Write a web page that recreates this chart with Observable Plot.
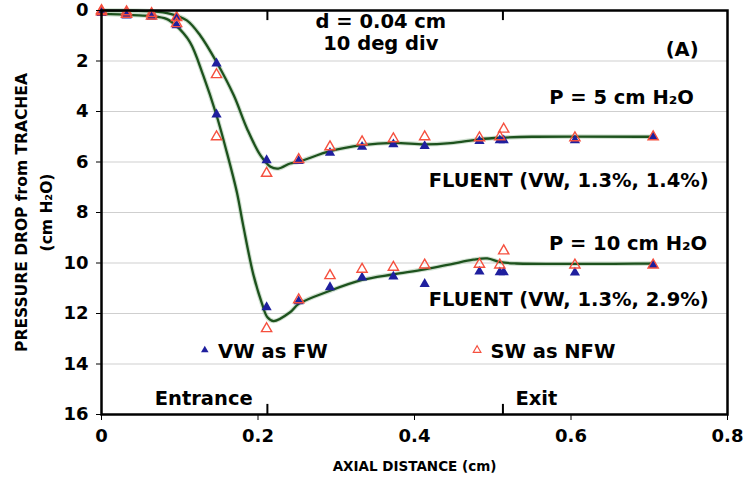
<!DOCTYPE html>
<html>
<head>
<meta charset="utf-8">
<script src="https://cdn.jsdelivr.net/npm/d3@7"></script>
<script src="https://cdn.jsdelivr.net/npm/@observablehq/plot@0.6"></script>
<style>
  html, body { margin: 0; padding: 0; background: #fff; }
  #chart svg { display: block; }
</style>
</head>
<body>
<div id="chart"></div>
<script>
// ---- Data ----
const pointX   = [0, 0.032, 0.064, 0.096, 0.147, 0.211, 0.252, 0.292, 0.333, 0.373, 0.413, 0.483, 0.509, 0.514, 0.605, 0.705];
const vw5      = [0.05, 0.10, 0.15, 0.30, 2.10, 5.93, 5.96, 5.64, 5.40, 5.30, 5.37, 5.17, 5.14, 5.14, 5.14, 5.00];
const sw5      = [0.00, 0.05, 0.12, 0.28, 2.54, 6.45, 5.90, 5.40, 5.20, 5.08, 5.00, 5.04, 5.00, 4.70, 5.04, 5.00];
const vw10     = [0.10, 0.20, 0.25, 0.59, 4.12, 11.75, 11.52, 10.96, 10.58, 10.54, 10.83, 10.34, 10.37, 10.37, 10.38, 10.08];
const sw10     = [0.05, 0.15, 0.22, 0.52, 5.00, 12.60, 11.46, 10.50, 10.25, 10.17, 10.08, 10.05, 10.08, 9.52, 10.08, 10.08];

const fluent5X = [0, 0.04, 0.064, 0.088, 0.109, 0.126, 0.147, 0.169, 0.186, 0.203, 0.216, 0.226, 0.241, 0.252, 0.292, 0.333, 0.373, 0.413, 0.446, 0.483, 0.51, 0.55, 0.705];
const fluent5Y = [0.00, 0.01, 0.03, 0.13, 0.39, 0.98, 2.04, 3.36, 4.68, 5.73, 6.19, 6.26, 6.06, 5.99, 5.57, 5.33, 5.24, 5.30, 5.25, 5.10, 5.04, 5.00, 5.00];
const fluent10X = [0, 0.04, 0.064, 0.083, 0.095, 0.113, 0.130, 0.147, 0.160, 0.173, 0.181, 0.194, 0.205, 0.212, 0.220, 0.241, 0.252, 0.292, 0.333, 0.373, 0.413, 0.446, 0.475, 0.493, 0.51, 0.53, 0.705];
const fluent10Y = [0.13, 0.18, 0.22, 0.33, 0.59, 1.25, 2.57, 4.15, 5.60, 7.20, 8.50, 10.45, 11.60, 12.15, 12.30, 11.95, 11.62, 11.10, 10.67, 10.45, 10.25, 10.05, 9.87, 9.82, 9.97, 10.02, 10.02];

const xTicks = [0, 0.2, 0.4, 0.6, 0.8];
const xTickLabels = ["0", "0.2", "0.4", "0.6", "0.8"];
const yTicks = [0, 2, 4, 6, 8, 10, 12, 14, 16];
const gridValues = [2, 4, 6, 8, 10, 12, 14];
const sectionX = [0.212, 0.513];           // entrance / exit of the section
const sectionLabels = ["Entrance", "Exit"];
const legendLabels = ["VW as FW", "SW as NFW"];

// ---- Build tables ----
const pts = (ys) => pointX.map((x, i) => ({x, y: ys[i]}));
const vwPts = [...pts(vw5), ...pts(vw10)];
const swPts = [...pts(sw5), ...pts(sw10)];
const f5 = fluent5X.map((x, i) => ({x, y: fluent5Y[i]}));
const f10 = fluent10X.map((x, i) => ({x, y: fluent10Y[i]}));

const BLUE = "#1f1f9e";
const RED = "#f5503f";
const GREEN = "#1d521d";
const FONT = "'DejaVu Sans', Verdana, sans-serif";
const FS = 19.5;

const centerNotes = [
  {x: 0.357, y: 0.46, text: "d = 0.04 cm"},
  {x: 0.357, y: 1.33, text: "10 deg div"}
];
const endNotes = [
  {x: 0.763, y: 1.55, text: "(A)"},
  {x: 0.757, y: 3.45, text: "P = 5 cm H₂O"},
  {x: 0.776, y: 6.74, text: "FLUENT (VW, 1.3%, 1.4%)"},
  {x: 0.774, y: 9.22, text: "P = 10 cm H₂O"},
  {x: 0.776, y: 11.45, text: "FLUENT (VW, 1.3%, 2.9%)"}
];
const startNotes = [
  {x: 0.149, y: 13.5, text: legendLabels[0]},
  {x: 0.497, y: 13.5, text: legendLabels[1]},
  {x: 0.068, y: 15.37, text: sectionLabels[0]},
  {x: 0.529, y: 15.37, text: sectionLabels[1]}
];
const textOpts = {x: "x", y: "y", text: "text", fontSize: FS, fontWeight: "bold", fill: "#000"};

const chart = Plot.plot({
  width: 746,
  height: 488,
  marginLeft: 101,
  marginRight: 19,
  marginTop: 10,
  marginBottom: 74,
  style: {fontFamily: FONT, background: "#fff", color: "#000"},
  x: {domain: [0, 0.8]},
  y: {domain: [0, 16], reverse: true},
  marks: [
    Plot.gridY(gridValues, {stroke: "#cfcfcf", strokeOpacity: 1, strokeWidth: 1}),
    // FLUENT curves (soft halo + line)
    Plot.line(f5, {x: "x", y: "y", curve: "catmull-rom", stroke: "#9fbf9f", strokeWidth: 4.5, strokeOpacity: 0.5}),
    Plot.line(f10, {x: "x", y: "y", curve: "catmull-rom", stroke: "#9fbf9f", strokeWidth: 4.5, strokeOpacity: 0.5}),
    Plot.line(f5, {x: "x", y: "y", curve: "catmull-rom", stroke: GREEN, strokeWidth: 2.3}),
    Plot.line(f10, {x: "x", y: "y", curve: "catmull-rom", stroke: GREEN, strokeWidth: 2.3}),
    // data points
    Plot.dot(vwPts, {x: "x", y: "y", symbol: "triangle", r: 3.8, fill: BLUE, stroke: "none"}),
    Plot.dot(swPts, {x: "x", y: "y", symbol: "triangle", r: 3.8, fill: "none", stroke: RED, strokeWidth: 1.4}),
    // legend markers
    Plot.dot([{x: 0.132, y: 13.45}], {x: "x", y: "y", symbol: "triangle", r: 2.8, fill: BLUE}),
    Plot.dot([{x: 0.48, y: 13.45}], {x: "x", y: "y", symbol: "triangle", r: 2.8, fill: "none", stroke: RED, strokeWidth: 1.2}),
    // section ticks (entrance / exit) at top and bottom edges
    Plot.ruleX(sectionX, {y1: 0, y2: 0.4, stroke: "#000", strokeWidth: 2}),
    Plot.ruleX(sectionX, {y1: 15.6, y2: 16, stroke: "#000", strokeWidth: 2}),
    // annotations
    Plot.text(centerNotes, {...textOpts, textAnchor: "middle"}),
    Plot.text(endNotes, {...textOpts, textAnchor: "end"}),
    Plot.text(startNotes, {...textOpts, textAnchor: "start"}),
    // axes
    Plot.axisY({ticks: yTicks, tickSize: 5, tickPadding: 8, fontSize: 18, fontWeight: "bold", label: null, tickFormat: d => String(d)}),
    Plot.axisX({ticks: xTicks, tickSize: 6, tickPadding: 9, fontSize: 18, fontWeight: "bold", label: null, tickFormat: (d, i) => xTickLabels[i]}),
    Plot.text(["AXIAL DISTANCE (cm)"], {frameAnchor: "bottom", dy: 56, fontSize: 13.5, fontWeight: "bold", fill: "#000"}),
    Plot.text(["PRESSURE DROP from TRACHEA"], {frameAnchor: "left", textAnchor: "middle", dx: -79, rotate: -90, fontSize: 15.5, fontWeight: "bold", fill: "#000"}),
    Plot.text(["(cm H₂O)"], {frameAnchor: "left", textAnchor: "middle", dx: -54, rotate: -90, fontSize: 15.5, fontWeight: "bold", fill: "#000"}),
    Plot.frame({stroke: "#000", strokeWidth: 2.5})
  ]
});
document.getElementById("chart").appendChild(chart);
</script>
</body>
</html>
